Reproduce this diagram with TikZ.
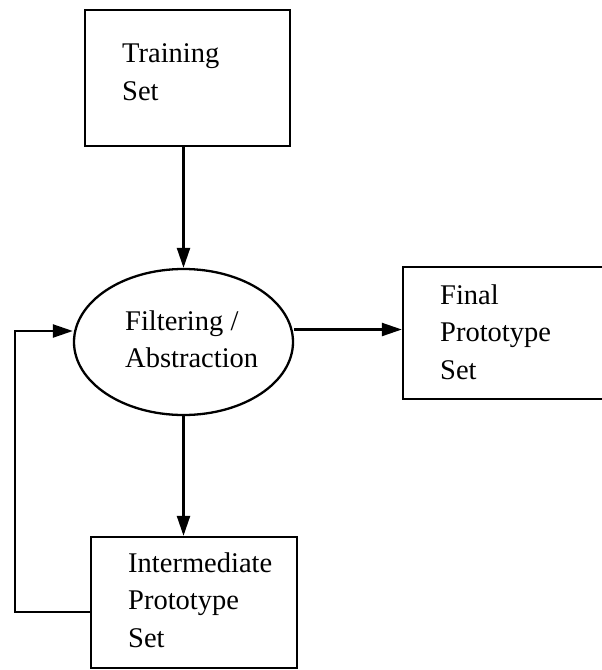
\documentclass[tikz,border=0pt]{standalone}
\usepackage{fontspec}
\setmainfont{Liberation Serif}
\usetikzlibrary{shapes.geometric,arrows.meta}
\begin{document}
\begin{tikzpicture}[x=1pt,y=-1pt,
  boxstyle/.style={draw, line width=2.3pt, rectangle, inner sep=0pt},
  ellstyle/.style={draw, line width=2.3pt, ellipse, inner sep=0pt, minimum width=219pt, minimum height=146pt},
  txt/.style={anchor=north west, inner sep=0pt, align=left, font=\fontsize{28.5pt}{37.5pt}\selectfont},
  arr/.style={line width=2.3pt, -{Triangle[length=20pt,width=13pt]}}]
\useasboundingbox (0,0) rectangle (602,670);
\clip (0,0) rectangle (602,670);
\fill[white] (0,0) rectangle (602,670);
% boxes
\node[boxstyle, minimum width=205pt, minimum height=136pt] (train) at (187.5,78) {};
\node[boxstyle, minimum width=237pt, minimum height=132pt] (final) at (521.5,333) {};
\node[boxstyle, minimum width=206pt, minimum height=131pt] (inter) at (194,602.5) {};
\node[ellstyle] (filt) at (183.5,342) {};
% texts
\node[txt] (traintext) at (122,43.5) {Training\\Set};
\node[txt] (finaltext) at (440,284.5) {Final\\Prototype\\Set};
\node[txt] (filttext) at (125,310.5) {Filtering /\\Abstraction};
\node[txt] (intertext) at (128,552.5) {Intermediate\\Prototype\\Set};
% connectors
\draw[arr] (filt.north |- train.south) -- (filt.north);
\draw[arr] ([yshift=12.5pt]filt.east) -- ([yshift=12.5pt]filt.east -| final.west);
\draw[arr] (filt.south) -- (filt.south |- inter.north);
\coordinate (loopx) at (15,331);
\draw[arr] ([yshift=-9.5pt]inter.west) -| (loopx) -- ([yshift=11pt]filt.west);
\end{tikzpicture}
\end{document}
